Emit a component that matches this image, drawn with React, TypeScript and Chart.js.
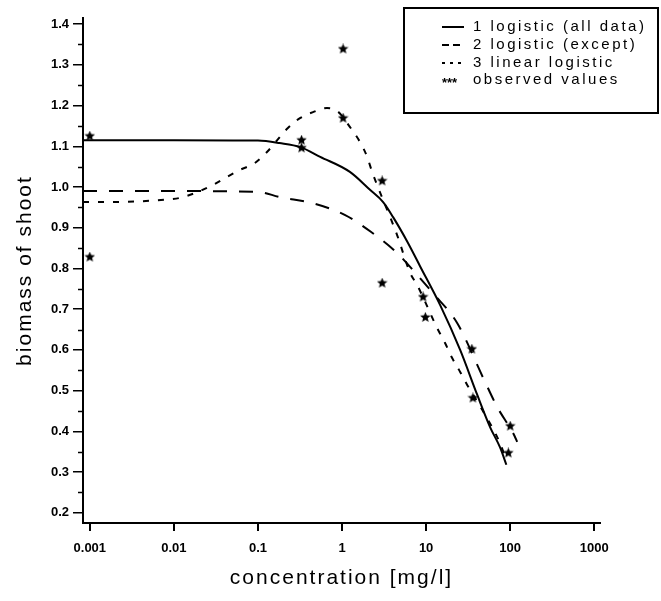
import React, { useEffect, useRef } from 'react';
import { Chart, registerables } from 'chart.js';

Chart.register(...registerables);

// ---- tick values / labels ----
const xTickValues = [0.001, 0.01, 0.1, 1, 10, 100, 1000];
const xTickLabels = ['0.001', '0.01', '0.1', '1', '10', '100', '1000'];
const yTickValues = [0.2, 0.3, 0.4, 0.5, 0.6, 0.7, 0.8, 0.9, 1.0, 1.1, 1.2, 1.3, 1.4];
const yTickLabels = ['0.2', '0.3', '0.4', '0.5', '0.6', '0.7', '0.8', '0.9', '1.0', '1.1', '1.2', '1.3', '1.4'];

const seriesLabels = ['1 logistic (all data)', '2 logistic (except)', '3 linear logistic', 'observed values'];

// ---- series 1: logistic (all data) ----
const logisticAllConc = [0.00083, 0.01, 0.1, 0.18, 0.32, 0.55, 1.24, 2.15, 3.08, 4.05, 6, 8.5, 14.7, 25.4, 40.5, 57.8, 76, 90];
const logisticAllBiomass = [1.115, 1.115, 1.114, 1.108, 1.098, 1.074, 1.037, 0.993, 0.963, 0.926, 0.865, 0.805, 0.71, 0.6, 0.49, 0.41, 0.36, 0.318];

// ---- series 2: logistic (except) ----
const logisticExceptConc = [0.00083, 0.01, 0.1, 0.183, 0.452, 1.09, 2.2, 4.52, 7.4, 12, 23.4, 47.8, 70, 112, 121];
const logisticExceptBiomass = [0.99, 0.99, 0.988, 0.975, 0.96, 0.931, 0.89, 0.838, 0.79, 0.74, 0.666, 0.531, 0.46, 0.39, 0.374];

// ---- series 3: linear logistic ----
const linearLogisticConc = [0.00083, 0.0014, 0.0089, 0.0128, 0.0291, 0.0405, 0.061, 0.092, 0.128, 0.227, 0.316, 0.452, 0.662, 0.895, 1.245, 1.64, 1.99, 2.28, 2.61, 4.52, 6.45, 7.8, 13.5, 16.8, 20.4, 25.4, 30.8, 46.5, 76, 89.5];
const linearLogisticBiomass = [0.963, 0.963, 0.97, 0.975, 1.005, 1.022, 1.042, 1.059, 1.086, 1.145, 1.169, 1.184, 1.194, 1.185, 1.147, 1.11, 1.074, 1.037, 1.005, 0.882, 0.789, 0.76, 0.654, 0.617, 0.58, 0.546, 0.514, 0.453, 0.37, 0.33];

// ---- observed values ----
const observedConc = [0.001, 0.001, 0.33, 0.33, 1.03, 1.03, 3.0, 3.0, 9.2, 9.8, 35, 36, 100, 95];
const observedBiomass = [1.125, 0.828, 1.115, 1.096, 1.339, 1.169, 1.015, 0.764, 0.73, 0.68, 0.602, 0.482, 0.413, 0.347];

const zip = (xs: number[], ys: number[]) => xs.map((x, i) => ({ x, y: ys[i] }));

function makeStar(size: number): HTMLCanvasElement {
  const c = document.createElement('canvas');
  c.width = size;
  c.height = size;
  const g = c.getContext('2d')!;
  const cx = size / 2;
  const cy = size / 2;
  const R = size / 2;
  const r = R * 0.45;
  g.beginPath();
  for (let i = 0; i < 10; i++) {
    const a = -Math.PI / 2 + (i * Math.PI) / 5;
    const rad = i % 2 ? r : R;
    g.lineTo(cx + rad * Math.cos(a), cy + rad * Math.sin(a));
  }
  g.closePath();
  g.fillStyle = '#000';
  g.fill();
  return c;
}

const legendDashes: number[][] = [[], [7, 4], [3, 5]];

const boxLegend = {
  id: 'boxLegend',
  afterDraw(chart: any) {
    const ctx = chart.ctx as CanvasRenderingContext2D;
    ctx.save();
    ctx.strokeStyle = '#000';
    ctx.fillStyle = '#000';
    ctx.lineWidth = 2;
    ctx.setLineDash([]);
    ctx.strokeRect(404, 8, 254, 105);
    const rows = [27, 45, 63, 80];
    chart.data.datasets.forEach((ds: any, i: number) => {
      const y = rows[i];
      (ctx as any).letterSpacing = '0px';
      if (ds.showLine) {
        ctx.setLineDash(legendDashes[i] || []);
        ctx.lineWidth = 2;
        ctx.beginPath();
        ctx.moveTo(442, y);
        ctx.lineTo(464, y);
        ctx.stroke();
      } else {
        ctx.setLineDash([]);
        ctx.font = 'bold 13px "Liberation Sans"';
        ctx.textAlign = 'left';
        ctx.textBaseline = 'alphabetic';
        ctx.fillText('***', 442, y + 7);
      }
      ctx.setLineDash([]);
      (ctx as any).letterSpacing = '2.5px';
      ctx.font = '15px "Liberation Sans"';
      ctx.textAlign = 'left';
      ctx.textBaseline = 'middle';
      ctx.fillText(ds.label, 473, y);
    });
    ctx.restore();
  },
};

const titleSpacing = {
  id: 'titleSpacing',
  beforeDraw(chart: any) {
    (chart.ctx as any).letterSpacing = '2px';
  },
  beforeDatasetsDraw(chart: any) {
    (chart.ctx as any).letterSpacing = '0px';
  },
};

const yMinorTicks = {
  id: 'yMinorTicks',
  afterDraw(chart: any) {
    const ctx = chart.ctx as CanvasRenderingContext2D;
    const ys = chart.scales.y;
    ctx.save();
    ctx.strokeStyle = '#000';
    ctx.lineWidth = 1.5;
    for (let k = 0; k < yTickValues.length - 1; k++) {
      const v = (yTickValues[k] + yTickValues[k + 1]) / 2;
      const py = Math.round(ys.getPixelForValue(v)) + 0.5;
      ctx.beginPath();
      ctx.moveTo(ys.right - 5, py);
      ctx.lineTo(ys.right, py);
      ctx.stroke();
    }
    ctx.restore();
  },
};

export default function App() {
  const ref = useRef<HTMLCanvasElement | null>(null);

  useEffect(() => {
    if (!ref.current) return;
    const star = makeStar(11);
    const lineBase = {
      showLine: true,
      borderColor: '#000',
      backgroundColor: '#000',
      borderWidth: 2,
      pointRadius: 0,
      cubicInterpolationMode: 'monotone' as const,
      fill: false,
    };
    const chart = new Chart(ref.current, {
      type: 'scatter',
      data: {
        datasets: [
          { ...lineBase, label: seriesLabels[0], data: zip(logisticAllConc, logisticAllBiomass) },
          { ...lineBase, label: seriesLabels[1], data: zip(logisticExceptConc, logisticExceptBiomass), borderDash: [14, 12] },
          { ...lineBase, label: seriesLabels[2], data: zip(linearLogisticConc, linearLogisticBiomass), borderDash: [6, 9] },
          {
            label: seriesLabels[3],
            data: zip(observedConc, observedBiomass),
            showLine: false,
            pointStyle: star as any,
            pointRadius: 5,
            borderColor: '#000',
            backgroundColor: '#000',
          },
        ],
      },
      options: {
        animation: false,
        responsive: false,
        devicePixelRatio: 1,
        layout: { padding: { left: 0, top: 18, right: 61, bottom: 0 } },
        plugins: { legend: { display: false }, tooltip: { enabled: false } },
        scales: {
          x: {
            type: 'logarithmic',
            min: 0.00083,
            max: 1170,
            afterFit: (s: any) => {
              s.height = 78;
            },
            afterBuildTicks: (s: any) => {
              s.ticks = xTickValues.map((v) => ({ value: v }));
            },
            ticks: {
              callback: (_v: any, i: number) => xTickLabels[i],
              font: { family: 'Liberation Sans', weight: 'bold', size: 13 },
              color: '#000',
              padding: 10,
              maxRotation: 0,
              autoSkip: false,
              z: 1,
            },
            grid: { drawOnChartArea: false, drawTicks: true, tickLength: 8, color: '#000', lineWidth: 2 },
            border: { color: '#000', width: 2 },
            title: {
              display: true,
              text: 'concentration [mg/l]',
              font: { family: 'Liberation Sans', size: 21 },
              color: '#000',
              padding: { top: 0, bottom: 10 },
            },
          },
          y: {
            type: 'linear',
            min: 0.175,
            max: 1.415,
            afterFit: (s: any) => {
              s.width = 83;
            },
            afterBuildTicks: (s: any) => {
              s.ticks = yTickValues.map((v) => ({ value: v }));
            },
            ticks: {
              callback: (_v: any, i: number) => yTickLabels[i],
              font: { family: 'Liberation Sans', weight: 'bold', size: 13 },
              color: '#000',
              padding: 4,
              z: 1,
            },
            grid: { drawOnChartArea: false, drawTicks: true, tickLength: 10, color: '#000', lineWidth: 1.5 },
            border: { color: '#000', width: 2 },
            title: {
              display: true,
              text: 'biomass of shoot',
              font: { family: 'Liberation Sans', size: 21 },
              color: '#000',
              padding: { top: 13, bottom: 0 },
            },
          },
        },
      },
      plugins: [titleSpacing, yMinorTicks, boxLegend],
    });
    return () => chart.destroy();
  }, []);

  return (
    <div style={{ position: 'absolute', left: 0, top: 0, width: 661, height: 601, background: '#fff' }}>
      <canvas ref={ref} width={661} height={601} style={{ display: 'block' }} />
    </div>
  );
}
